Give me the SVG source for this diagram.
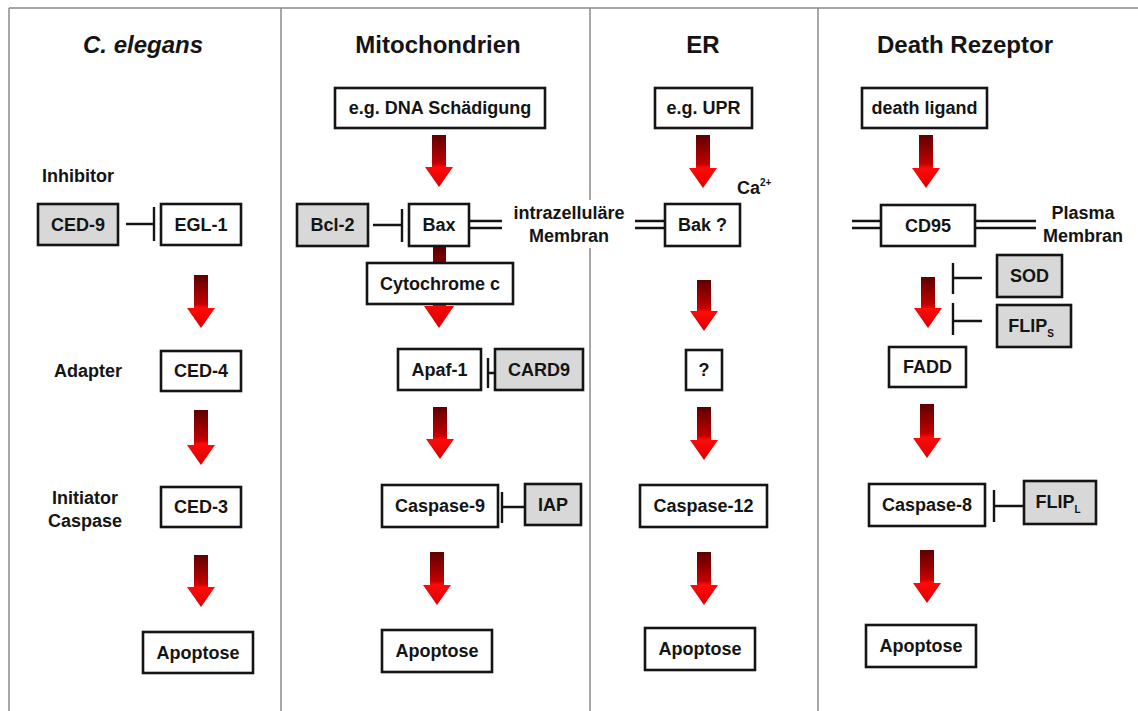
<svg xmlns="http://www.w3.org/2000/svg" width="1138" height="711" viewBox="0 0 1138 711">
  <defs>
    <linearGradient id="redArrow" x1="0" y1="0" x2="0" y2="1">
      <stop offset="0" stop-color="#5e0000"/>
      <stop offset="0.55" stop-color="#c40000"/>
      <stop offset="0.62" stop-color="#ff0a0a"/>
      <stop offset="1" stop-color="#dd0000"/>
    </linearGradient>
    <style>
      .frame { stroke: #8a8a8a; stroke-width: 1.5; fill: none; }
      .box { fill: #ffffff; stroke: #141414; stroke-width: 2.6; }
      .grey { fill: #d8d8d8; stroke: #141414; stroke-width: 2.6; }
      .bar { stroke: #141414; stroke-width: 2.4; fill: none; }
      .arrow { fill: url(#redArrow); }
      text { font-family: "Liberation Sans", Arial, Helvetica, sans-serif; font-weight: bold; fill: #141414; }
      .t { font-size: 18px; text-anchor: middle; }
      .lbl { font-size: 18px; text-anchor: middle; }
      .title { font-size: 24px; text-anchor: middle; }
      .small { font-size: 10px; }
    </style>
  </defs>

  <rect width="1138" height="711" fill="#ffffff"/>

  <!-- frame and column dividers -->
  <g id="frame">
    <line class="frame" x1="9" y1="8" x2="1138" y2="8"/>
    <line class="frame" x1="9" y1="8" x2="9" y2="711"/>
    <line class="frame" x1="281" y1="8" x2="281" y2="711"/>
    <line class="frame" x1="590" y1="8" x2="590" y2="200"/>
    <line class="frame" x1="590" y1="248" x2="590" y2="711"/>
    <line class="frame" x1="818" y1="8" x2="818" y2="711"/>
  </g>

  <!-- column headings and side labels -->
  <g id="headings">
    <text class="title" x="143" y="53" font-style="italic">C. elegans</text>
    <text class="title" x="438" y="53">Mitochondrien</text>
    <text class="title" x="703" y="53">ER</text>
    <text class="title" x="965" y="53">Death Rezeptor</text>
    <text class="lbl" x="78" y="182">Inhibitor</text>
    <text class="lbl" x="88" y="377">Adapter</text>
    <text class="lbl" x="85" y="504">Initiator</text>
    <text class="lbl" x="85" y="527">Caspase</text>
    <text class="lbl" x="569" y="219">intrazelluläre</text>
    <text class="lbl" x="569" y="242">Membran</text>
    <text class="lbl" x="1083" y="219">Plasma</text>
    <text class="lbl" x="1083" y="242">Membran</text>
    <text x="737" y="194" font-size="18">Ca<tspan class="small" dy="-8">2+</tspan></text>
  </g>

  <!-- connectors: activation arrows, inhibition bars, membrane lines -->
  <g id="connectors">
    <!-- C. elegans -->
    <path class="arrow" d="M194,275 H208 V308 H215 L201,328 L187,308 H194 Z"/>
    <path class="arrow" d="M194,410 H208 V445 H215 L201,465 L187,445 H194 Z"/>
    <path class="arrow" d="M194,555 H208 V587 H215 L201,607 L187,587 H194 Z"/>
    <path class="bar" d="M126,224 H154 M154,207 V241"/>
    <!-- Mitochondrien -->
    <path class="arrow" d="M432,135 H446 V167 H453 L439,187 L425,167 H432 Z"/>
    <path class="arrow" d="M433,247 H446 V306 H454 L439,328 L424,306 H433 Z"/>
    <path class="arrow" d="M433,407 H447 V439 H454 L440,459 L426,439 H433 Z"/>
    <path class="arrow" d="M430,552 H444 V585 H451 L437,605 L423,585 H430 Z"/>
    <path class="bar" d="M373,225 H402 M402,209 V242"/>
    <path class="bar" d="M488,373 H495 M488,358 V388"/>
    <path class="bar" d="M502,507 H525 M502,492 V523"/>
    <path class="bar" d="M469,221 H502 M469,228 H502"/>
    <!-- ER -->
    <path class="arrow" d="M696,135 H710 V168 H717 L703,188 L689,168 H696 Z"/>
    <path class="arrow" d="M697,280 H711 V311 H718 L704,331 L690,311 H697 Z"/>
    <path class="arrow" d="M697,407 H711 V440 H718 L704,460 L690,440 H697 Z"/>
    <path class="arrow" d="M697,552 H711 V585 H718 L704,605 L690,585 H697 Z"/>
    <path class="bar" d="M635,221 H665 M635,228 H665"/>
    <!-- Death Rezeptor -->
    <path class="arrow" d="M919,135 H933 V168 H940 L926,188 L912,168 H919 Z"/>
    <path class="arrow" d="M921,277 H935 V308 H942 L928,328 L914,308 H921 Z"/>
    <path class="arrow" d="M920,404 H934 V438 H941 L927,458 L913,438 H920 Z"/>
    <path class="arrow" d="M920,550 H934 V583 H941 L927,603 L913,583 H920 Z"/>
    <path class="bar" d="M852,221 H881 M852,228 H881"/>
    <path class="bar" d="M975,221 H1036 M975,228 H1036"/>
    <path class="bar" d="M953,278 H982 M953,263 V294"/>
    <path class="bar" d="M953,321 H982 M953,303 V335"/>
    <path class="bar" d="M994,506 H1024 M994,490 V522"/>
  </g>

  <!-- C. elegans nodes -->
  <g id="ced9"><rect class="grey" x="38" y="204" width="80" height="41"/><text class="t" x="78" y="231">CED-9</text></g>
  <g id="egl1"><rect class="box" x="161" y="204" width="80" height="41"/><text class="t" x="201" y="231">EGL-1</text></g>
  <g id="ced4"><rect class="box" x="161" y="351" width="80" height="40"/><text class="t" x="201" y="377">CED-4</text></g>
  <g id="ced3"><rect class="box" x="161" y="487" width="80" height="40"/><text class="t" x="201" y="513">CED-3</text></g>
  <g id="apoptose-ce"><rect class="box" x="143" y="632" width="110" height="41"/><text class="t" x="198" y="659">Apoptose</text></g>

  <!-- Mitochondrien nodes -->
  <g id="dna"><rect class="box" x="335" y="88" width="210" height="40"/><text class="t" x="440" y="114">e.g. DNA Schädigung</text></g>
  <g id="bcl2"><rect class="grey" x="297" y="204" width="71" height="42"/><text class="t" x="332.5" y="231">Bcl-2</text></g>
  <g id="bax"><rect class="box" x="409" y="204" width="60" height="42"/><text class="t" x="439" y="231">Bax</text></g>
  <g id="cytc"><rect class="box" x="367" y="263" width="146" height="41"/><text class="t" x="440" y="290">Cytochrome c</text></g>
  <g id="apaf1"><rect class="box" x="398" y="349" width="83" height="41"/><text class="t" x="439.5" y="376">Apaf-1</text></g>
  <g id="card9"><rect class="grey" x="495" y="349" width="88" height="41"/><text class="t" x="539" y="376">CARD9</text></g>
  <g id="casp9"><rect class="box" x="382" y="485" width="116" height="42"/><text class="t" x="440" y="512">Caspase-9</text></g>
  <g id="iap"><rect class="grey" x="525" y="484" width="56" height="41"/><text class="t" x="553" y="511">IAP</text></g>
  <g id="apoptose-mito"><rect class="box" x="382" y="630" width="110" height="42"/><text class="t" x="437" y="657">Apoptose</text></g>

  <!-- ER nodes -->
  <g id="upr"><rect class="box" x="655" y="88" width="97" height="40"/><text class="t" x="703.5" y="114">e.g. UPR</text></g>
  <g id="bak"><rect class="box" x="665" y="204" width="75" height="42"/><text class="t" x="702.5" y="231">Bak ?</text></g>
  <g id="unknown"><rect class="box" x="686" y="350" width="36" height="40"/><text class="t" x="704" y="376">?</text></g>
  <g id="casp12"><rect class="box" x="640" y="485" width="127" height="42"/><text class="t" x="703.5" y="512">Caspase-12</text></g>
  <g id="apoptose-er"><rect class="box" x="645" y="628" width="110" height="42"/><text class="t" x="700" y="655">Apoptose</text></g>

  <!-- Death Rezeptor nodes -->
  <g id="ligand"><rect class="box" x="862" y="88" width="125" height="40"/><text class="t" x="924.5" y="114">death ligand</text></g>
  <g id="cd95"><rect class="box" x="881" y="205" width="94" height="41"/><text class="t" x="928" y="232">CD95</text></g>
  <g id="sod"><rect class="grey" x="997" y="255" width="65" height="42"/><text class="t" x="1029.5" y="282">SOD</text></g>
  <g id="flips"><rect class="grey" x="997" y="305" width="74" height="42"/><text class="t" x="1031" y="332">FLIP<tspan class="small" dy="5">S</tspan></text></g>
  <g id="fadd"><rect class="box" x="889" y="347" width="77" height="40"/><text class="t" x="927.5" y="373">FADD</text></g>
  <g id="casp8"><rect class="box" x="869" y="484" width="116" height="42"/><text class="t" x="927" y="511">Caspase-8</text></g>
  <g id="flipl"><rect class="grey" x="1024" y="481" width="72" height="43"/><text class="t" x="1058" y="508">FLIP<tspan class="small" dy="5">L</tspan></text></g>
  <g id="apoptose-dr"><rect class="box" x="866" y="625" width="110" height="42"/><text class="t" x="921" y="652">Apoptose</text></g>
</svg>
